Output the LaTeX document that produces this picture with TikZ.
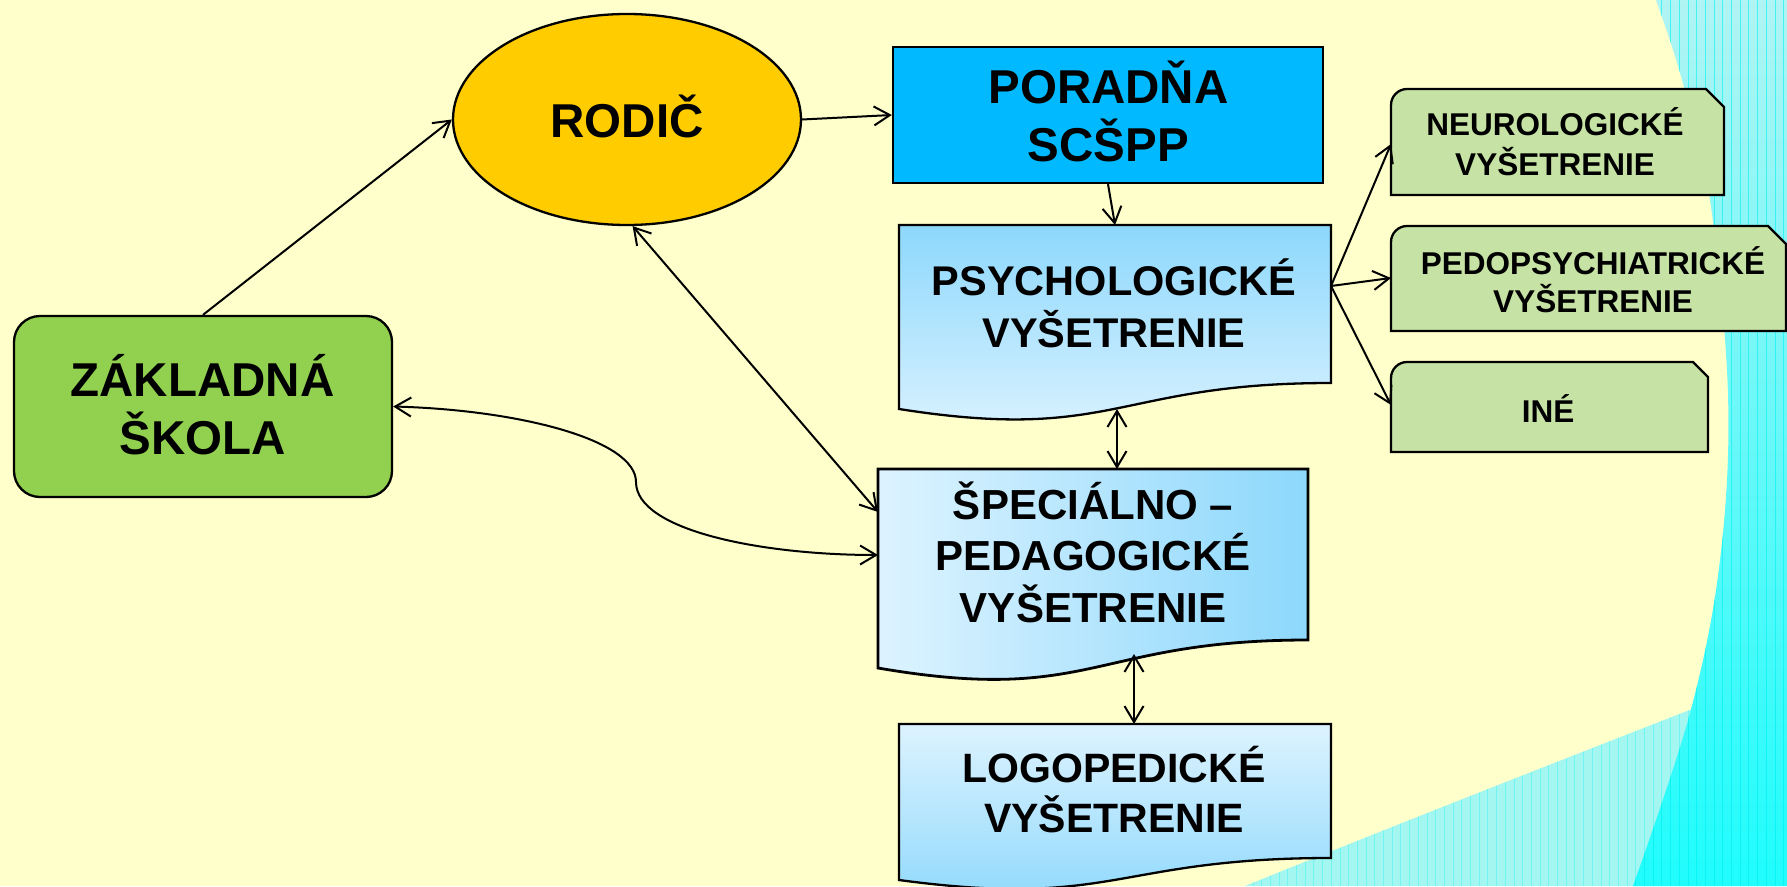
\documentclass[tikz,border=0pt]{standalone}
\usepackage{fontspec}
\setmainfont{Liberation Sans}
\usetikzlibrary{arrows.meta,shapes.geometric}
\definecolor{bgyellow}{HTML}{FFFFCC}
\definecolor{cyanwedge}{HTML}{A4F6F0}
\definecolor{cyantop}{HTML}{B0F4F4}
\definecolor{cyanbot}{HTML}{20FCFC}
\definecolor{gridcyan}{HTML}{00F2F2}
\definecolor{rodicfill}{HTML}{FFCC00}
\definecolor{poradnafill}{HTML}{00B9FF}
\definecolor{skolafill}{HTML}{92D050}
\definecolor{greenbox}{HTML}{C6E2A4}
\definecolor{bluedark}{HTML}{8DD8FC}
\definecolor{bluelight}{HTML}{DDF3FF}
\begin{document}
\begin{tikzpicture}[x=1pt,y=-1pt,
  lbl/.style={anchor=base, align=center, inner sep=0pt},
  fbig/.style={font=\bfseries\fontsize{47.5}{58}\selectfont},
  fmid/.style={font=\bfseries\fontsize{41.5}{52}\selectfont},
  fsmall/.style={font=\bfseries\fontsize{31.5}{39}\selectfont},
  boxline/.style={draw=black, line width=2.3pt},
  tipA/.tip={Straight Barb[length=16pt,width=19pt]},
  conn/.style={line width=2pt, -tipA},
  conn2/.style={line width=2pt, tipA-tipA}]
\useasboundingbox (0,0) rectangle (1787,886);
% background
\fill[bgyellow] (0,0) rectangle (1787,886);
\fill[cyanwedge] (1245,886) .. controls (1420,815) and (1600,745) .. (1787,672) -- (1787,886) -- cycle;
\shade[top color=cyantop, bottom color=cyanbot] plot[smooth, tension=0.6] coordinates {(1656,0) (1682,80) (1710,200) (1728,395) (1720,560) (1690,713) (1633,886)} -- (1787,886) -- (1787,0) -- cycle;
\begin{scope}
  \clip (1245,886) .. controls (1420,815) and (1600,745) .. (1787,672) -- (1787,886) -- cycle;
  \draw[gridcyan, line width=0.6pt, opacity=0.3] (1240,560) grid[step=8.7] (1787,886);
\end{scope}
\begin{scope}
  \clip plot[smooth, tension=0.6] coordinates {(1656,0) (1682,80) (1710,200) (1728,395) (1720,560) (1690,713) (1633,886)} -- (1787,886) -- (1787,0) -- cycle;
  \draw[gridcyan, line width=0.6pt, opacity=0.6] (1620,0) grid[step=8.7] (1787,886);
\end{scope}

% main shapes
\node[ellipse, boxline, fill=rodicfill, minimum width=348pt, minimum height=211pt, inner sep=0pt] (rodic) at (627,119.5) {};
\node[rectangle, boxline, fill=poradnafill, minimum width=430pt, minimum height=136pt, inner sep=0pt] (poradna) at (1108,115) {};
\node[rectangle, rounded corners=26pt, boxline, fill=skolafill, minimum width=378pt, minimum height=181pt, inner sep=0pt] (zakladna) at (203,406.5) {};

\shadedraw[top color=bluedark, bottom color=bluelight, line width=2.3pt]
  (899,225) -- (1331,225) -- (1331,383) .. controls (1115,383) and (1115,443) .. (899,409) -- cycle;
\shadedraw[left color=bluelight, right color=bluedark, line width=2.8pt]
  (878,469) -- (1308,469) -- (1308,640) .. controls (1093,640) and (1093,705) .. (878,668) -- cycle;
\shadedraw[top color=bluelight, bottom color=bluedark, line width=2.3pt]
  (899,724) -- (1331,724) -- (1331,858) .. controls (1115,858) and (1115,909) .. (899,880) -- cycle;

\filldraw[fill=greenbox, line width=2.3pt]
  (1391,195) -- (1391,105) .. controls (1391,96.2) and (1398.2,89) .. (1407,89) -- (1706,89) -- (1724,107) -- (1724,195) -- cycle;
\filldraw[fill=greenbox, line width=2.3pt]
  (1391,331) -- (1391,242) .. controls (1391,233.2) and (1398.2,226) .. (1407,226) -- (1768,226) -- (1786,244) -- (1786,331) -- cycle;
\filldraw[fill=greenbox, line width=2.3pt]
  (1391,452) -- (1391,378) .. controls (1391,369.2) and (1398.2,362) .. (1407,362) -- (1693,362) -- (1708,377) -- (1708,452) -- cycle;

% texts (anchor base = baseline of the last line)
\node[lbl, fbig] (rodicT) at (627,137) {RODIČ};
\node[lbl, fbig] (poradnaT) at (1108.5,161) {PORADŇA\\SCŠPP};
\node[lbl, fbig] (zakladnaT) at (202.5,454) {ZÁKLADNÁ\\ŠKOLA};
\node[lbl, fmid] (psych) at (1114,347) {PSYCHOLOGICKÉ\\VYŠETRENIE};
\node[lbl, fmid, font=\bfseries\fontsize{42}{51.5}\selectfont] (spec) at (1093,622) {ŠPECIÁLNO –\\PEDAGOGICKÉ\\VYŠETRENIE};
\node[lbl, fmid, font=\bfseries\fontsize{41}{50}\selectfont] (logo) at (1114,832) {LOGOPEDICKÉ\\VYŠETRENIE};
\node[lbl, fsmall, font=\bfseries\fontsize{31.5}{40}\selectfont] (neuro) at (1555,175) {NEUROLOGICKÉ\\VYŠETRENIE};
\node[lbl, fsmall, font=\bfseries\fontsize{31.5}{38}\selectfont] (pedo) at (1593,312) {PEDOPSYCHIATRICKÉ\\VYŠETRENIE};
\node[lbl, fsmall] (ine) at (1548,422) {INÉ};

% connector end points on drawn shapes
\coordinate (psychN) at (1115,225);
\coordinate (psychS) at (1117,409);
\coordinate (psychE) at (1331,286);
\coordinate (specN) at (1117,469);
\coordinate (specS) at (1134,654);
\coordinate (specW1) at (878,512);
\coordinate (specW2) at (878,555);
\coordinate (logoN) at (1134,724);
\coordinate (neuroW) at (1391,144);
\coordinate (pedoW) at (1391,278);
\coordinate (ineW) at (1391,405);
\coordinate (zsbend) at (636,482);

% connectors
\draw[conn] (zakladna.north) -- (rodic.west);
\draw[conn] (rodic.east) -- (poradna.west);
\draw[conn] (poradna.south) -- (psychN);
\draw[conn2] (rodic.-87) -- (specW1);
\draw[conn2] (zakladna.east) .. controls (520,410) and (636,440) .. (zsbend) .. controls (636,530) and (760,555) .. (specW2);
\draw[conn2] (psychS) -- (specN);
\draw[conn2] (specS) -- (logoN);
\draw[conn] (psychE) -- (neuroW);
\draw[conn] (psychE) -- (pedoW);
\draw[conn] (psychE) -- (ineW);
\end{tikzpicture}
\end{document}
